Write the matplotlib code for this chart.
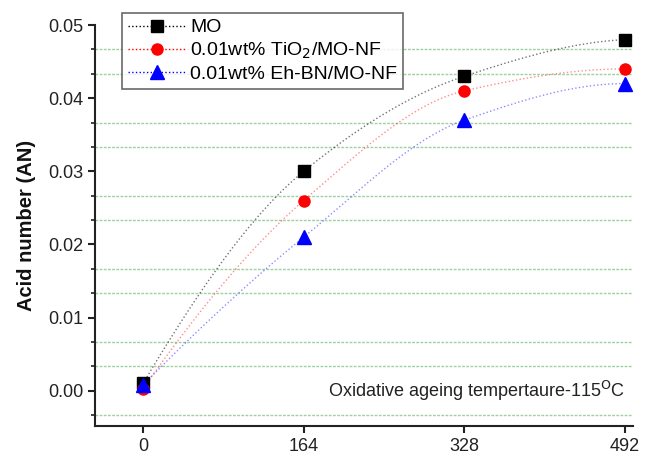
import numpy as np
import matplotlib.pyplot as plt
from matplotlib.ticker import MultipleLocator

plt.rcParams['font.family'] = ['Liberation Sans', 'DejaVu Sans']

# --- Datos ---------------------------------------------------------------
hours = [0, 164, 328, 492]
an_mo = [0.0010, 0.0300, 0.0430, 0.0480]
an_tio2 = [0.0003, 0.0260, 0.0410, 0.0440]
an_ehbn = [0.0008, 0.0210, 0.0370, 0.0420]

labels = ['MO', '0.01wt% TiO$_2$/MO-NF', '0.01wt% Eh-BN/MO-NF']
x_ticks = [0, 164, 328, 492]


# Curva suave monotona (Hermite tipo PCHIP) que pasa por los puntos
def pchip(x, y, xs):
    x = np.asarray(x, float)
    y = np.asarray(y, float)
    h = np.diff(x)
    d = np.diff(y) / h
    m = np.zeros_like(y)
    for k in range(1, len(x) - 1):
        if d[k - 1] * d[k] > 0:
            w1 = 2 * h[k] + h[k - 1]
            w2 = h[k] + 2 * h[k - 1]
            m[k] = (w1 + w2) / (w1 / d[k - 1] + w2 / d[k])
    m[0] = ((2 * h[0] + h[1]) * d[0] - h[0] * d[1]) / (h[0] + h[1])
    m[-1] = ((2 * h[-1] + h[-2]) * d[-1] - h[-1] * d[-2]) / (h[-1] + h[-2])
    if m[-1] * d[-1] <= 0:
        m[-1] = 0
    idx = np.clip(np.searchsorted(x, xs) - 1, 0, len(x) - 2)
    t = (xs - x[idx]) / h[idx]
    h00 = 2 * t**3 - 3 * t**2 + 1
    h10 = t**3 - 2 * t**2 + t
    h01 = -2 * t**3 + 3 * t**2
    h11 = t**3 - t**2
    return (h00 * y[idx] + h10 * h[idx] * m[idx] + h01 * y[idx + 1]
            + h11 * h[idx] * m[idx + 1])


fig = plt.figure(figsize=(6.51, 4.55), dpi=100)
ax = fig.add_axes([0.146, 0.064, 0.826, 0.881])

series = [
    (an_mo, 'black', 's', 9, 0.55),
    (an_tio2, 'red', 'o', 8, 0.45),
    (an_ehbn, 'blue', '^', 10, 0.45),
]

xs = np.linspace(hours[0], hours[-1], 300)
handles = []
for (y, c, m, ms, a), lab in zip(series, labels):
    ax.plot(xs, pchip(hours, y, xs), ls=':', color=c, lw=1.0, alpha=a, zorder=2)
    ax.plot(hours, y, ls='none', marker=m, ms=ms, color=c, zorder=3)
    h, = ax.plot([], [], ls=':', color=c, lw=1.0, marker=m, ms=ms,
                 markeredgecolor=c)
    handles.append(h)

ax.set_xlim(-49, 500)
ax.set_ylim(-0.0048, 0.05)
ax.set_xticks(x_ticks)
ax.set_yticks([0.0, 0.01, 0.02, 0.03, 0.04, 0.05])
ax.yaxis.set_minor_locator(MultipleLocator(0.01 / 3))
ax.set_yticklabels(['0.00', '0.01', '0.02', '0.03', '0.04', '0.05'])

ax.grid(which='minor', axis='y', color='#9fd09f', ls=(0, (2, 1)), lw=1.0)
ax.set_axisbelow(True)

for s in ['top', 'right']:
    ax.spines[s].set_visible(False)
for s in ['left', 'bottom']:
    ax.spines[s].set_linewidth(1.5)
    ax.spines[s].set_color('#222222')

ax.tick_params(axis='both', which='major', direction='out', length=5, width=1.5,
               labelsize=13, colors='#222222')
ax.tick_params(axis='y', which='minor', direction='out', length=3, width=1.2,
               colors='#222222')

ax.set_ylabel('Acid number (AN)', fontsize=14.5, fontweight='bold', color='#111111')
ax.yaxis.set_label_coords(-0.11, 0.5)

ax.text(492, 0.0, 'Oxidative ageing tempertaure-115$^{\\rm O}$C', fontsize=13,
        ha='right', va='center', color='#222222')

leg = ax.legend(handles, labels, loc='upper left', bbox_to_anchor=(0.05, 1.03),
                fontsize=14, frameon=True, fancybox=False, borderpad=0.3,
                labelspacing=0.22, handlelength=3.0, handletextpad=0.2,
                borderaxespad=0)
leg.get_frame().set_edgecolor('#444444')
leg.get_frame().set_linewidth(1.2)

fig.savefig('out.png', dpi=100)
